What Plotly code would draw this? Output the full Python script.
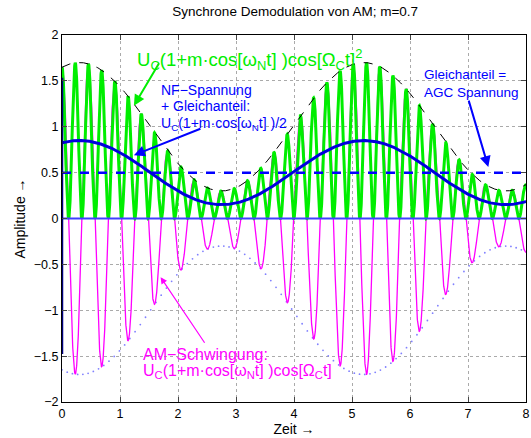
import numpy as np
import plotly.graph_objects as go

# ---- chart parameters ----
m = 0.7                 # modulation index (title)
U_C = 1.0               # carrier amplitude
T_N = 4.9               # period of the NF (modulating) signal
t_N_peak = 0.3          # time of first envelope maximum
T_C = 0.4566            # carrier period
gleichanteil = 0.5      # DC level (AGC)
t_start, t_end = 0.0, 8.0

x_ticks = [0, 1, 2, 3, 4, 5, 6, 7, 8]
y_ticks = [-2, -1.5, -1, -0.5, 0, 0.5, 1, 1.5, 2]
y_tick_text = ["\u22122", "\u22121.5", "\u22121", "\u22120.5", "0", "0.5", "1", "1.5", "2"]

title_text = "Synchrone Demodulation von AM; m=0.7"
x_label = "Zeit \u2192"
y_label = "Amplitude \u2192"

# ---- signals ----
t = np.linspace(t_start, t_end, 4001)
envelope = U_C * (1 + m * np.cos(2 * np.pi / T_N * (t - t_N_peak)))
carrier = np.cos(2 * np.pi / T_C * t)
am = envelope * carrier
am_sq = envelope * carrier ** 2
nf = envelope / 2

FONT = "Liberation Sans, Arial, Helvetica, sans-serif"
GREEN = "#00ee00"
BLUE = "#0000ff"
MAGENTA = "#ff00ff"

fig = go.Figure()
fig.add_trace(go.Scatter(x=t[::45], y=-envelope[::45], mode="markers",
                         marker=dict(color="#8080ff", size=1.8)))
fig.add_trace(go.Scatter(x=t, y=am, mode="lines",
                         line=dict(color=MAGENTA, width=1.3)))
fig.add_trace(go.Scatter(x=t, y=am_sq, mode="lines",
                         line=dict(color=GREEN, width=3)))
fig.add_trace(go.Scatter(x=t, y=envelope, mode="lines",
                         line=dict(color="black", width=1, dash="dash")))
fig.add_trace(go.Scatter(x=[t_start, t_end], y=[0, 0], mode="lines",
                         line=dict(color="#4040ff", width=2)))
fig.add_trace(go.Scatter(x=[t_start, t_end], y=[gleichanteil, gleichanteil], mode="lines",
                         line=dict(color=BLUE, width=2.5, dash="dash")))
fig.add_trace(go.Scatter(x=t, y=nf, mode="lines",
                         line=dict(color="#0000dd", width=3)))
fig.add_trace(go.Scatter(x=[0, 0], y=[am.min() * 0.87, am[0] * 0.93], mode="lines",
                         line=dict(color="#000080", width=2.5)))


def label(x, y, text, color, size):
    return dict(x=x, y=y, xanchor="left", yanchor="middle", showarrow=False, align="left",
                text=text, font=dict(color=color, size=size, family=FONT))


def arrow(x, y, ax, ay, color, width):
    return dict(x=x, y=y, ax=ax, ay=ay, showarrow=True, arrowhead=2, arrowsize=1.1,
                arrowwidth=width, arrowcolor=color, text="")


annotations = [
    arrow(1.24, 1.23, 26, -44, GREEN, 2),
    label(1.26, 1.73,
          "U<sub>C</sub>(1+m\u00b7cos[\u03c9<sub>N</sub>t] )cos[\u03a9<sub>C</sub>t]<sup>2</sup>",
          GREEN, 18.5),
    arrow(1.24, 0.69, 68, -27, BLUE, 2),
    label(1.67, 1.40, "NF\u2212Spannung", BLUE, 14),
    label(1.67, 1.225, "+ Gleichanteil:", BLUE, 14),
    label(1.67, 1.03,
          "U<sub>C</sub>(1+m\u00b7cos[\u03c9<sub>N</sub>t] )/2", BLUE, 14),
    arrow(7.35, 0.56, -20, -68, BLUE, 2),
    label(6.2, 1.57, "Gleichanteil =", BLUE, 13.5),
    label(6.2, 1.375, "AGC Spannung", BLUE, 13.5),
    arrow(1.7, -0.64, 45, 67, MAGENTA, 1.2),
    label(1.36, -1.48, "AM\u2212Schwingung:", MAGENTA, 16),
    label(1.36, -1.67,
          "U<sub>C</sub>(1+m\u00b7cos[\u03c9<sub>N</sub>t] )cos[\u03a9<sub>C</sub>t]",
          MAGENTA, 16),
]

fig.update_layout(
    width=531, height=438,
    margin=dict(l=62, r=1, t=35, b=36),
    paper_bgcolor="white", plot_bgcolor="white",
    showlegend=False,
    font=dict(family=FONT, size=12, color="black"),
    title=dict(text=title_text, x=0.556, xanchor="center", y=0.985, yanchor="top",
               font=dict(size=13.5, family=FONT)),
    annotations=annotations,
)
fig.update_xaxes(range=[t_start, t_end], tickvals=x_ticks, ticks="inside", ticklen=5,
                 showline=True, linecolor="black", linewidth=1, mirror="allticks",
                 showgrid=True, gridcolor="#aaaaaa", griddash="dot", gridwidth=1,
                 zeroline=False, ticklabeloverflow="allow",
                 title=dict(text=x_label, standoff=2, font=dict(size=14)),
                 tickfont=dict(size=12.5))
fig.update_yaxes(range=[-2, 2], tickvals=y_ticks, ticktext=y_tick_text, ticks="inside", ticklen=5,
                 showline=True, linecolor="black", linewidth=1, mirror="allticks",
                 showgrid=True, gridcolor="#aaaaaa", griddash="dot", gridwidth=1,
                 zeroline=False, ticklabeloverflow="allow",
                 title=dict(text=y_label, standoff=4, font=dict(size=14)),
                 tickfont=dict(size=12.5))

fig.write_html("out.html")
